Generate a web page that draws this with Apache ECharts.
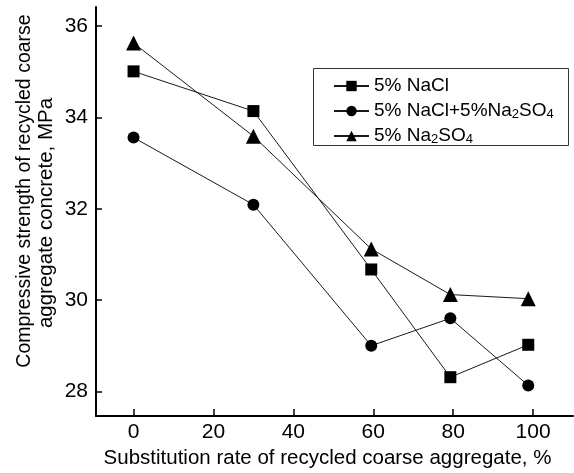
<!DOCTYPE html>
<html>
<head>
<meta charset="utf-8">
<script src="https://cdn.jsdelivr.net/npm/echarts@6/dist/echarts.min.js"></script>
<style>
html,body{margin:0;padding:0;background:#fff;}
#chart{width:574px;height:473px;}
</style>
</head>
<body>
<div id="chart"></div>
<script>
var xValues = [0, 30, 59.5, 79.3, 98.8];
var naclValues = [35.01, 34.14, 30.67, 28.31, 29.02];
var mixValues = [33.56, 32.09, 29.00, 29.60, 28.13];
var sulfateValues = [35.63, 33.59, 31.12, 30.12, 30.03];
var xTicks = [0, 20, 40, 60, 80, 100];
var yTicks = [28, 30, 32, 34, 36];
var seriesNames = ['5% NaCl', '5% NaCl+5%Na2SO4', '5% Na2SO4'];

function pairs(xs, ys) { return xs.map(function (x, i) { return [x, ys[i]]; }); }

var FONT = '"Liberation Sans", Arial, sans-serif';
var chart = echarts.init(document.getElementById('chart'), null, {renderer: 'canvas'});

function mkSeries(name, vals, symbol, size) {
  return {
    name: name, type: 'line', data: pairs(xValues, vals),
    symbol: symbol, symbolSize: size, showAllSymbol: true,
    lineStyle: {color: '#1a1a1a', width: 1},
    itemStyle: {color: '#000'},
    emphasis: {disabled: true},
    animation: false
  };
}

chart.setOption({
  animation: false,
  backgroundColor: '#fff',
  grid: {left: 96, top: 7, right: 1, bottom: 57, containLabel: false},
  xAxis: {
    type: 'value', min: -9.4, max: 110,
    axisLine: {show: true, onZero: false, lineStyle: {color: '#000', width: 2}},
    axisTick: {show: true, inside: true, length: 7, lineStyle: {color: '#000', width: 1.5}, customValues: xTicks},
    axisLabel: {customValues: xTicks, color: '#000', fontSize: 21, fontFamily: FONT, margin: 6},
    splitLine: {show: false}
  },
  yAxis: {
    type: 'value', min: 27.46, max: 36.42,
    axisLine: {show: true, onZero: false, lineStyle: {color: '#000', width: 2}},
    axisTick: {show: true, inside: true, length: 6, lineStyle: {color: '#000', width: 1.5}, customValues: yTicks},
    axisLabel: {customValues: yTicks, color: '#000', fontSize: 21, fontFamily: FONT, margin: 8},
    splitLine: {show: false}
  },
  legend: {
    orient: 'vertical', left: 328, top: 71,
    itemWidth: 35, itemHeight: 13, itemGap: 4,
    data: seriesNames,
    textStyle: {
      color: '#000', fontSize: 19, fontFamily: FONT, lineHeight: 20,
      rich: {
        n: {fontSize: 19, fontFamily: FONT, color: '#000', lineHeight: 20},
        sub: {fontSize: 13, fontFamily: FONT, color: '#000', lineHeight: 20, verticalAlign: 'bottom', padding: [8, 0, 0, 0]}
      }
    },
    formatter: function (name) {
      var parts = name.split(/(2|4)(?=SO|$)/);
      var out = '';
      for (var i = 0; i < parts.length; i++) {
        if (!parts[i]) continue;
        if ((parts[i] === '2' || parts[i] === '4') && i % 2 === 1) out += '{sub|' + parts[i] + '}';
        else out += '{n|' + parts[i] + '}';
      }
      return out;
    }
  },
  graphic: [
    {type: 'rect', shape: {x: 313.5, y: 68.5, width: 255, height: 77}, style: {fill: 'none', stroke: '#333', lineWidth: 1}, z: 1},
    {type: 'text', x: 327.5, y: 458, style: {text: 'Substitution rate of recycled coarse aggregate, %', fill: '#000', font: '20.5px ' + FONT, textAlign: 'center', textVerticalAlign: 'middle'}},
    {type: 'text', x: 25, y: 191, rotation: Math.PI / 2, style: {text: 'Compressive strength of recycled coarse', fill: '#000', font: '19.5px ' + FONT, textAlign: 'center', textVerticalAlign: 'middle'}},
    {type: 'text', x: 46, y: 213, rotation: Math.PI / 2, style: {text: 'aggregate concrete, MPa', fill: '#000', font: '20.5px ' + FONT, textAlign: 'center', textVerticalAlign: 'middle'}}
  ],
  series: [
    mkSeries(seriesNames[0], naclValues, 'rect', 12),
    mkSeries(seriesNames[1], mixValues, 'circle', 12),
    mkSeries(seriesNames[2], sulfateValues, 'triangle', 15)
  ]
});
</script>
</body>
</html>
